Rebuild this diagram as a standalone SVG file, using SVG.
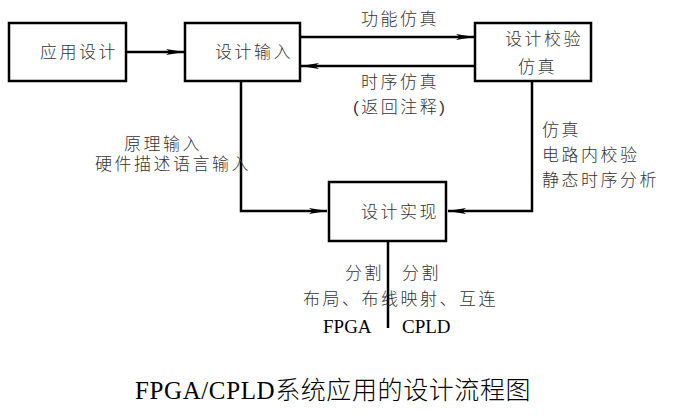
<svg xmlns="http://www.w3.org/2000/svg" width="682" height="416" viewBox="0 0 682 416">
<style>
.box{fill:#fff;stroke:#000;stroke-width:2.5}
.ln{fill:none;stroke:#000;stroke-width:2.5}
.t{font-family:"Liberation Sans","Noto Sans CJK SC",sans-serif;font-size:17px;font-weight:300;letter-spacing:2.5px;fill:#333}
.s{font-family:"Liberation Serif","Noto Sans CJK SC",serif;fill:#000}
</style>
<defs>
<marker id="ah" markerUnits="userSpaceOnUse" markerWidth="20" markerHeight="10" refX="18" refY="5" orient="auto">
<path d="M0,2 L18,5 L0,8 L4,5 Z" fill="#000"/>
</marker>
</defs>
<rect width="682" height="416" fill="#fff"/>
<g id="connectors">
<line class="ln" x1="126" y1="52" x2="184" y2="52" marker-end="url(#ah)"/>
<line class="ln" x1="300" y1="37" x2="474" y2="37" marker-end="url(#ah)"/>
<line class="ln" x1="475" y1="66" x2="301" y2="66" marker-end="url(#ah)"/>
<polyline class="ln" points="241,81 241,211 327,211" marker-end="url(#ah)"/>
<polyline class="ln" points="532,81 532,211 448,211" marker-end="url(#ah)"/>
<line class="ln" x1="388" y1="241" x2="388" y2="328"/>
</g>
<g id="n1"><rect class="box" x="9" y="23" width="117" height="58"/><text class="t" x="40" y="58">应用设计</text></g>
<g id="n2"><rect class="box" x="185" y="23" width="115" height="58"/><text class="t" x="215" y="58">设计输入</text></g>
<g id="n3"><rect class="box" x="475" y="23" width="116" height="58"/><text class="t" x="505" y="45">设计校验</text><text class="t" x="518" y="73">仿真</text></g>
<g id="n4"><rect class="box" x="329" y="182" width="117" height="59"/><text class="t" x="361" y="218">设计实现</text></g>
<g id="labels">
<text class="t" x="361" y="25">功能仿真</text>
<text class="t" x="361" y="88">时序仿真</text>
<text class="t" x="353" y="113">(返回注释)</text>
<text class="t" x="124" y="150">原理输入</text>
<text class="t" x="95" y="170">硬件描述语言输入</text>
<text class="t" x="542" y="136">仿真</text>
<text class="t" x="542" y="161">电路内校验</text>
<text class="t" x="542" y="186">静态时序分析</text>
<text class="t" x="345" y="279">分割</text>
<text class="t" x="402" y="279">分割</text>
<text class="t" x="303" y="305">布局、布线映射、互连</text>
<text class="s" x="323" y="333" font-size="19">FPGA</text>
<text class="s" x="402" y="333" font-size="19">CPLD</text>
<text class="s" x="135" y="399" font-size="25" font-weight="300" letter-spacing="0.6">FPGA/CPLD系统应用的设计流程图</text>
</g>
</svg>
